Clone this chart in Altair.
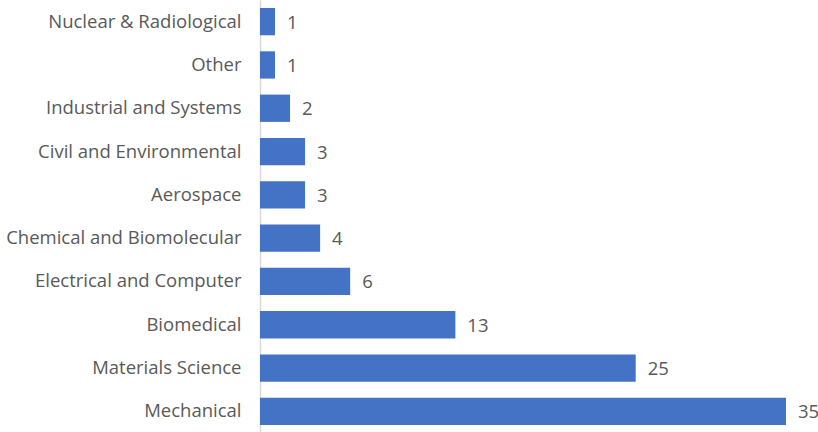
import altair as alt
import pandas as pd

categories = ["Nuclear & Radiological", "Other", "Industrial and Systems",
              "Civil and Environmental", "Aerospace", "Chemical and Biomolecular",
              "Electrical and Computer", "Biomedical", "Materials Science", "Mechanical"]
values = [1, 1, 2, 3, 3, 4, 6, 13, 25, 35]

df = pd.DataFrame({"category": categories, "value": values})

y = alt.Y("category:N", sort=categories, title=None,
          scale=alt.Scale(paddingInner=0.37, paddingOuter=0.185),
          axis=alt.Axis(domain=True, domainColor="#d9d9d9", domainWidth=1.5,
                        ticks=False, labelFont="Open Sans", labelFontSize=18.5,
                        labelColor="#595959", labelPadding=19, labelLimit=300))
x = alt.X("value:Q", title=None, scale=alt.Scale(domain=[0, 35], nice=False),
          axis=None)

bars = alt.Chart(df).mark_bar(color="#4472C4").encode(x=x, y=y)
text = alt.Chart(df).mark_text(align="left", dx=12, dy=1, font="Open Sans", fontSize=18.5,
                               color="#595959").encode(x=x, y=y, text="value:Q")

chart = (bars + text).properties(
    width=526, height=433,
    autosize=alt.AutoSizeParams(type="none"),
    padding={"left": 260, "top": 0, "right": 32, "bottom": 0},
).configure(background="white").configure_view(stroke=None, strokeWidth=0)

chart.save("out.html", embed_options={"renderer": "svg", "actions": False})
